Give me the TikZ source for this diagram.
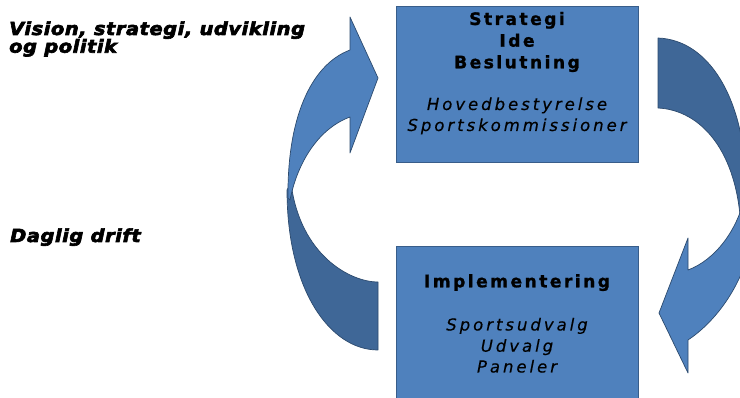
\documentclass[tikz,border=0pt]{standalone}
\usepackage{fontspec}
\setmainfont{DejaVu Sans}
\newfontfamily\boxfontB{DejaVu Sans Bold}[LetterSpace=14,FakeBold=1.2]
\newfontfamily\boxfontI{DejaVu Sans Oblique}[LetterSpace=18,FakeBold=0.3]
\newfontfamily\sidefont{DejaVu Sans Bold Oblique}[LetterSpace=3,FakeBold=3.5,FakeStretch=1.08]
\definecolor{boxfill}{HTML}{4F81BD}
\definecolor{darkfill}{HTML}{3F6797}
\definecolor{boxline}{HTML}{385D8A}
\definecolor{arrline}{HTML}{2C4A6E}
\begin{document}
\begin{tikzpicture}[x=1pt,y=-1pt,
  boxst/.style={draw=boxline, fill=boxfill, line width=0.9pt, inner sep=0pt, anchor=north west},
  frontst/.style={draw=arrline, fill=boxfill, line width=0.7pt, line join=round},
  backst/.style={draw=arrline, fill=darkfill, line width=0.7pt, line join=round},
  bt/.style={font=\boxfontB\fontsize{17.2}{20}\selectfont, anchor=base, inner sep=0pt},
  itx/.style={font=\boxfontI\fontsize{16.5}{20}\selectfont, anchor=base, inner sep=0pt},
  st/.style={font=\sidefont\fontsize{18}{20}\selectfont, anchor=base west, inner sep=0pt}]
\useasboundingbox (0,0) rectangle (740,398);
\fill[white] (0,0) rectangle (740,398);
\begin{scope}
\clip (0,0) rectangle (740,398);
% left arrow: back band
\draw[backst] (378,350) .. controls (330,350) and (287,290) .. (287,190) -- (291,183)
  .. controls (300,255) and (350,282) .. (378,282) -- cycle;
% left arrow: front band with head
\draw[frontst] (288,198) .. controls (287,120) and (310,65) .. (350,50) -- (350,17) -- (378,78)
  -- (350,153) -- (350,117) .. controls (320,128) and (298,160) .. (290,200) -- cycle;
% right arrow: back band
\draw[backst] (658,38) .. controls (710,40) and (742,100) .. (745,170) -- (765,200) -- (741,230)
  .. controls (738,150) and (700,110) .. (658,108) -- cycle;
% right arrow: front band with head
\draw[frontst] (688,340) -- (688,373) -- (659,313) -- (688,238) -- (688,270)
  .. controls (715,260) and (738,230) .. (745,195) -- (765,200) -- (748,255)
  .. controls (738,290) and (715,322) .. (688,340) -- cycle;
% boxes
\node[boxst, minimum width=242pt, minimum height=156pt] (top) at (396,6) {};
\node[boxst, minimum width=242pt, minimum height=170pt] (bot) at (396,246) {};
\end{scope}
% texts in top box
\node[bt] (t1) at (517,25) {Strategi};
\node[bt] (t2) at (517,46.7) {Ide};
\node[bt] (t3) at (517,68.3) {Beslutning};
\node[itx] (t4) at (517,110) {Hovedbestyrelse};
\node[itx] (t5) at (517,131) {Sportskommissioner};
% texts in bottom box
\node[bt] (b1) at (517,287.3) {Implementering};
\node[itx] (b2) at (517,330.5) {Sportsudvalg};
\node[itx] (b3) at (517,351.7) {Udvalg};
\node[itx] (b4) at (517,372.5) {Paneler};
% side labels
\node[st] (s1) at (9,35) {Vision, strategi, udvikling};
\node[st] (s2) at (9,52.7) {og politik};
\node[st] (s3) at (10,242) {Daglig drift};
\end{tikzpicture}
\end{document}
